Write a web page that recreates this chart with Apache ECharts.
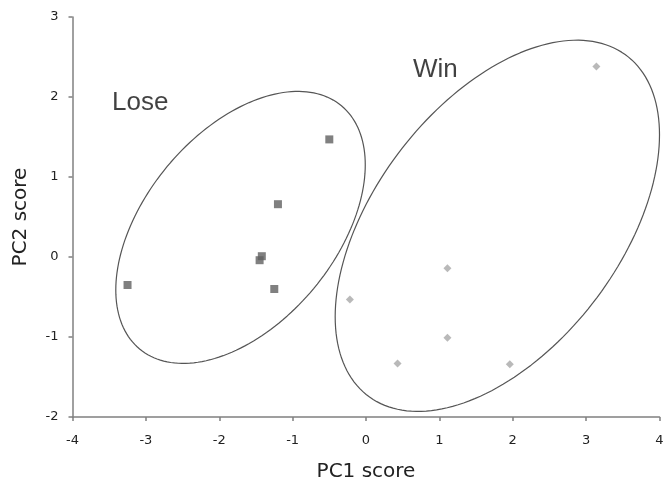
<!DOCTYPE html>
<html>
<head>
<meta charset="utf-8">
<script src="https://cdn.jsdelivr.net/npm/echarts@6/dist/echarts.min.js"></script>
<style>html,body{margin:0;padding:0;background:#fff}#c{width:669px;height:487px}</style>
</head>
<body>
<div id="c"></div>
<script>
// Tick values
var xTicks = [-4, -3, -2, -1, 0, 1, 2, 3, 4];
var yTicks = [-2, -1, 0, 1, 2, 3];

// Lose group (PC1, PC2)
var losePC1 = [-0.50, -1.20, -1.42, -1.45, -1.25, -3.25];
var losePC2 = [1.47, 0.66, 0.01, -0.04, -0.40, -0.35];

// Win group (PC1, PC2)
var winPC1 = [3.14, 1.11, -0.22, 1.11, 0.43, 1.96];
var winPC2 = [2.38, -0.14, -0.53, -1.01, -1.33, -1.34];

// Ellipse parameters: [centerX, centerY, spreadX, spreadY, correlation]
var loseEllipse = [-1.71, 0.37, 1.70, 1.70, 0.46];
var winEllipse = [1.79, 0.39, 2.21, 2.32, 0.49];

// Group labels: [name, x, y]
var groupLabels = [['Lose', -3.46, 1.93], ['Win', 0.64, 2.34]];

function ellipsePoints(p) {
  var pts = [];
  var n = 180;
  for (var i = 0; i <= n; i++) {
    var t = 2 * Math.PI * i / n;
    var x = p[0] + p[2] * Math.cos(t);
    var y = p[1] + p[3] * (p[4] * Math.cos(t) + Math.sqrt(1 - p[4] * p[4]) * Math.sin(t));
    pts.push([x, y]);
  }
  return pts;
}
function zip(a, b) { return a.map(function (v, i) { return [v, b[i]]; }); }

var axisColor = '#808080';
var chart = echarts.init(document.getElementById('c'), null, {renderer: 'canvas'});
chart.setOption({
  animation: false,
  backgroundColor: '#fff',
  grid: {left: 72.5, right: 9.5, top: 17, bottom: 65},
  xAxis: {
    type: 'value', min: xTicks[0], max: xTicks[xTicks.length - 1], interval: 1,
    name: 'PC1 score', nameLocation: 'middle', nameGap: 45,
    nameTextStyle: {fontFamily: 'DejaVu Sans', fontSize: 20, color: '#222'},
    axisLine: {onZero: false, lineStyle: {color: axisColor, width: 1.5}},
    axisTick: {show: true, inside: false, length: 4, lineStyle: {color: axisColor, width: 1.5}},
    axisLabel: {margin: 17, fontFamily: 'DejaVu Sans', fontSize: 13, color: '#222'},
    splitLine: {show: false}
  },
  yAxis: {
    type: 'value', min: yTicks[0], max: yTicks[yTicks.length - 1], interval: 1,
    name: 'PC2 score', nameLocation: 'middle', nameGap: 42, nameRotate: 90,
    nameTextStyle: {fontFamily: 'DejaVu Sans', fontSize: 20, color: '#222'},
    axisLine: {onZero: false, lineStyle: {color: axisColor, width: 1.5}},
    axisTick: {show: true, inside: false, length: 4, lineStyle: {color: axisColor, width: 1.5}},
    axisLabel: {margin: 14, fontFamily: 'DejaVu Sans', fontSize: 13, color: '#222'},
    splitLine: {show: false}
  },
  series: [
    {
      type: 'line', name: 'Lose ellipse', data: ellipsePoints(loseEllipse),
      showSymbol: false, symbol: 'none', clip: false, silent: true,
      lineStyle: {color: '#555', width: 1.2}, z: 1
    },
    {
      type: 'line', name: 'Win ellipse', data: ellipsePoints(winEllipse),
      showSymbol: false, symbol: 'none', clip: false, silent: true,
      lineStyle: {color: '#555', width: 1.2}, z: 1
    },
    {
      type: 'scatter', name: 'Lose', data: zip(losePC1, losePC2),
      symbol: 'rect', symbolSize: 8,
      itemStyle: {color: '#606060'}, z: 3
    },
    {
      type: 'scatter', name: 'Win', data: zip(winPC1, winPC2),
      symbol: 'diamond', symbolSize: 8,
      itemStyle: {color: '#a8a8a8'}, z: 3
    },
    {
      type: 'scatter', name: 'labels', symbolSize: 0, silent: true,
      data: groupLabels.map(function (g) { return {name: g[0], value: [g[1], g[2]]}; }),
      label: {
        show: true, position: 'inside', formatter: '{b}', align: 'left', verticalAlign: 'middle',
        fontFamily: 'Liberation Sans', fontSize: 26, color: '#111'
      }
    }
  ]
});
</script>
</body>
</html>
